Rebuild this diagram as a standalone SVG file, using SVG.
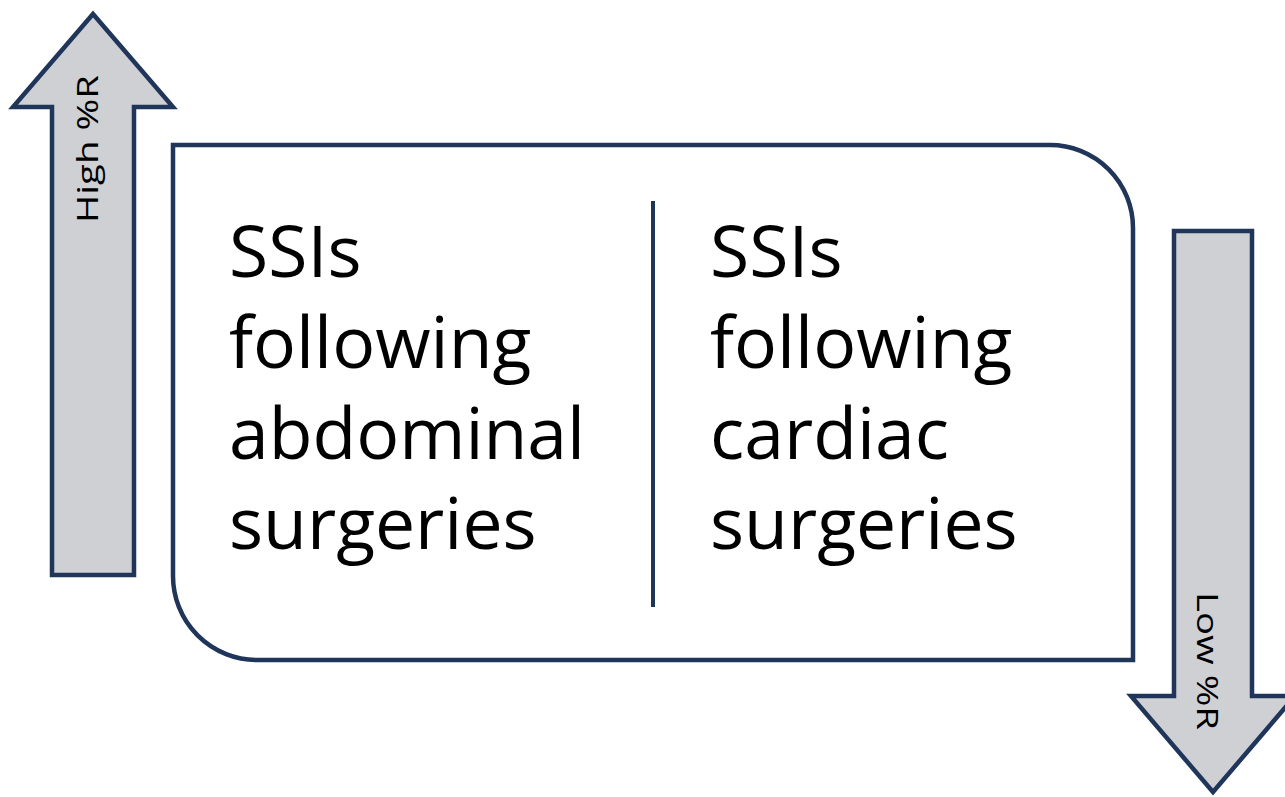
<svg xmlns="http://www.w3.org/2000/svg" width="1285" height="797" viewBox="0 0 1285 797">
  <style>
    .arrow { fill: #CFD0D4; stroke: #1F3559; stroke-width: 4.5; stroke-linejoin: miter; stroke-miterlimit: 10; }
    .box { fill: #FFFFFF; stroke: #1F3559; stroke-width: 4.5; }
    .divider { stroke: #1F3559; stroke-width: 4; fill: none; }
    .main { font-family: "Open Sans", "Liberation Sans", sans-serif; font-size: 71.5px; fill: #000000; }
    .side { font-family: "Open Sans", "Liberation Sans", sans-serif; font-size: 29px; fill: #000000; text-anchor: middle; }
  </style>
  <rect width="1285" height="797" fill="#FFFFFF"/>
  <g id="arrow-high">
    <polygon class="arrow" points="93,14 173,107 134,107 134,575 52,575 52,107 13,107"/>
    <text class="side" transform="translate(98,149) rotate(-90)" textLength="148" lengthAdjust="spacingAndGlyphs">High %R</text>
  </g>
  <g id="box">
    <path class="box" d="M173,145 L1050,145 A83,83 0 0 1 1133,228 L1133,660 L257,660 A84,84 0 0 1 173,576 Z"/>
  </g>
  <g id="connectors">
    <line class="divider" x1="653" y1="201" x2="653" y2="607"/>
  </g>
  <g id="node-abdominal">
    <text class="main" x="229" y="277">SSIs</text>
    <text class="main" x="229" y="368">following</text>
    <text class="main" x="229" y="459">abdominal</text>
    <text class="main" x="229" y="549">surgeries</text>
  </g>
  <g id="node-cardiac">
    <text class="main" x="710" y="277">SSIs</text>
    <text class="main" x="710" y="368">following</text>
    <text class="main" x="710" y="459">cardiac</text>
    <text class="main" x="710" y="549">surgeries</text>
  </g>
  <g id="arrow-low">
    <polygon class="arrow" points="1174,231 1252,231 1252,696 1295,696 1213,792 1131,696 1174,696"/>
    <text class="side" transform="translate(1197,661) rotate(90)" textLength="138" lengthAdjust="spacingAndGlyphs">Low %R</text>
  </g>
</svg>
